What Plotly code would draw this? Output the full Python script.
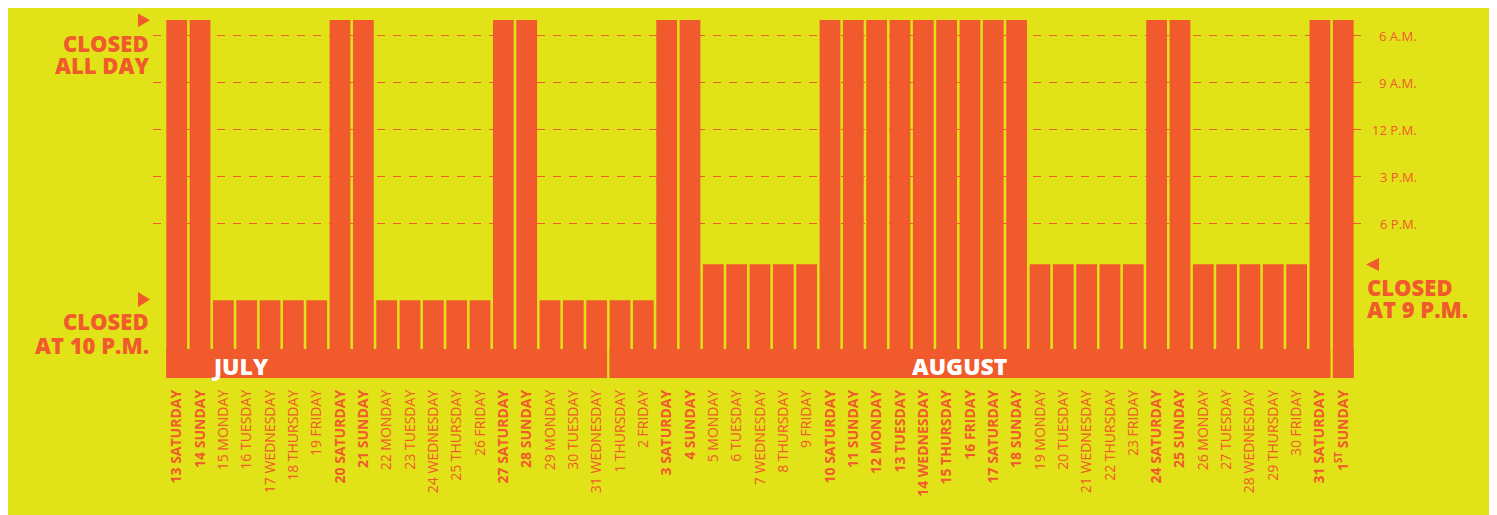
import plotly.graph_objects as go

# ---------------- data ----------------
day_labels = [
    "13 SATURDAY", "14 SUNDAY", "15 MONDAY", "16 TUESDAY", "17 WEDNESDAY", "18 THURSDAY", "19 FRIDAY",
    "20 SATURDAY", "21 SUNDAY", "22 MONDAY", "23 TUESDAY", "24 WEDNESDAY", "25 THURSDAY", "26 FRIDAY",
    "27 SATURDAY", "28 SUNDAY", "29 MONDAY", "30 TUESDAY", "31 WEDNESDAY",
    "1 THURSDAY", "2 FRIDAY", "3 SATURDAY", "4 SUNDAY", "5 MONDAY", "6 TUESDAY", "7 WEDNESDAY",
    "8 THURSDAY", "9 FRIDAY", "10 SATURDAY", "11 SUNDAY", "12 MONDAY", "13 TUESDAY", "14 WEDNESDAY",
    "15 THURSDAY", "16 FRIDAY", "17 SATURDAY", "18 SUNDAY", "19 MONDAY", "20 TUESDAY", "21 WEDNESDAY",
    "22 THURSDAY", "23 FRIDAY", "24 SATURDAY", "25 SUNDAY", "26 MONDAY", "27 TUESDAY", "28 WEDNESDAY",
    "29 THURSDAY", "30 FRIDAY", "31 SATURDAY", "1<sup>ST</sup> SUNDAY",
]
# status per day: "all" = closed all day, "10" = closed at 10 P.M., "9" = closed at 9 P.M.
status = (
    ["all", "all"] + ["10"] * 5 + ["all", "all"] + ["10"] * 5 + ["all", "all"] + ["10"] * 3
    + ["10", "10"] + ["all", "all"] + ["9"] * 5 + ["all"] * 9 + ["9"] * 5 + ["all", "all"]
    + ["9"] * 5 + ["all", "all"]
)
# bar top position on the hour axis (as drawn in the picture)
status_top = {"all": 5.0, "10": 22.9, "9": 20.6}

months = ["JULY", "AUGUST", ""]
month_days = [19, 31, 1]

hour_ticks = [6, 9, 12, 15, 18]
hour_labels = ["6 A.M.", "9 A.M.", "12 P.M.", "3 P.M.", "6 P.M."]

# ---------------- style ----------------
YELLOW = "#e1e217"
ORANGE = "#f15a2c"
FONT = "Open Sans"
Y_TOP, Y_BOTTOM = 5.0106, 27.8617
BAND_TOP = 26.01
BAR_W = 0.89

W, H = 1497, 515
OX, OY = 8, 8  # page offset of the plot div
PL, PR, PT, PB = 153, 1368, 20, 378  # plot box in page pixels
L, T = PL - OX, PT - OY
R, B = W - (PR - OX), H - (PB - OY)
PW, PH = PR - PL, PB - PT


def px(xp):
    return (xp - PL) / PW


def py(yp):
    return (PB - yp) / PH


tops = [status_top[s] for s in status]
xs = list(range(len(day_labels)))
ticktext = [
    (f"<b>{lab}</b>" if s == "all" else lab) for lab, s in zip(day_labels, status)
]

fig = go.Figure()
fig.add_trace(go.Bar(
    x=xs, base=tops, y=[Y_BOTTOM - t for t in tops], width=BAR_W,
    marker=dict(color=ORANGE, line=dict(width=0)), hoverinfo="skip",
))

# month bands
band_x, band_w = [], []
start = 0
for n in month_days:
    band_x.append(start + (n - 1) / 2)
    band_w.append(n - 1 + BAR_W)
    start += n
fig.add_trace(go.Bar(
    x=band_x, base=[BAND_TOP] * len(band_x), y=[Y_BOTTOM - BAND_TOP] * len(band_x),
    width=band_w, marker=dict(color=ORANGE, line=dict(width=0)), hoverinfo="skip",
))

annotations = []
# month names
month_label_x = [2.73, 33.57]
for name, mx in zip(months[:2], month_label_x):
    annotations.append(dict(
        x=mx, y=py(366), xref="x", yref="paper", text=name, showarrow=False,
        font=dict(family=FONT, size=23, color="white", weight=800), xanchor="center", yanchor="middle",
    ))
# hour tick labels on right
for hv, hl in zip(hour_ticks, hour_labels):
    annotations.append(dict(
        x=px(1419), y=hv, xref="paper", yref="y", text=hl, showarrow=False,
        font=dict(family=FONT, size=13, color=ORANGE), xanchor="right", yanchor="middle",
    ))

big = dict(family=FONT, size=22, color=ORANGE, weight=800)
for text, yc in [("CLOSED", 42.5), ("ALL DAY", 64.5), ("CLOSED", 321), ("AT 10 P.M.", 344.5)]:
    annotations.append(dict(
        x=px(151), y=py(yc), xref="paper", yref="paper", text=text, showarrow=False,
        font=big, xanchor="right", yanchor="middle",
    ))
for text, yc in [("CLOSED", 286.5), ("AT 9 P.M.", 309)]:
    annotations.append(dict(
        x=px(1365), y=py(yc), xref="paper", yref="paper", text=text, showarrow=False,
        font=big, xanchor="left", yanchor="middle",
    ))


def tri(points):
    return "M " + " L ".join(f"{px(a)},{py(b)}" for a, b in points) + " Z"


shapes = [
    dict(type="path", xref="paper", yref="paper", path=tri([(138, 13.5), (138, 27), (150, 20.25)]),
         fillcolor=ORANGE, line=dict(width=0)),
    dict(type="path", xref="paper", yref="paper", path=tri([(138, 292), (138, 307), (150, 299.5)]),
         fillcolor=ORANGE, line=dict(width=0)),
    dict(type="path", xref="paper", yref="paper", path=tri([(1379, 258), (1379, 271), (1366, 264.5)]),
         fillcolor=ORANGE, line=dict(width=0)),
]

fig.update_layout(
    width=W, height=H, margin=dict(l=L, r=R, t=T, b=B, pad=0),
    paper_bgcolor=YELLOW, plot_bgcolor=YELLOW, showlegend=False, barmode="overlay",
    annotations=annotations, shapes=shapes,
    xaxis=dict(
        range=[-1.016, 51.06], tickmode="array", tickvals=xs, ticktext=ticktext, tickangle=-90,
        showgrid=False, zeroline=False, showline=False, ticks="", ticklabelstandoff=8,
        tickfont=dict(family=FONT, size=14, color=ORANGE), fixedrange=True,
    ),
    yaxis=dict(
        range=[Y_BOTTOM, Y_TOP], tickmode="array", tickvals=hour_ticks, showticklabels=False,
        showgrid=True, gridcolor=ORANGE, gridwidth=1, griddash="8px,8px", zeroline=False,
        showline=False, ticks="", fixedrange=True,
    ),
)

fig.write_html("out.html")
